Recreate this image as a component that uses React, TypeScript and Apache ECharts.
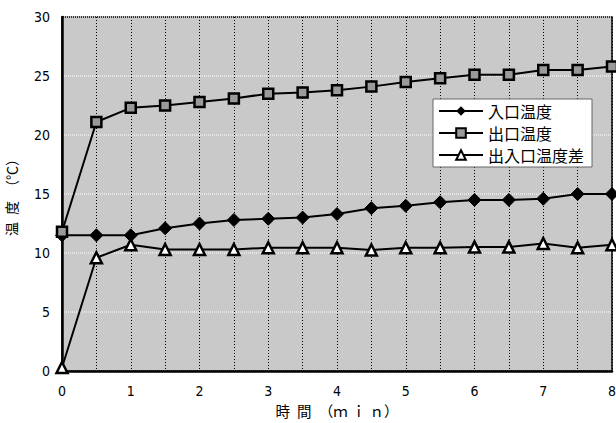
import React, { useEffect, useRef } from "react";
import * as echarts from "echarts";

const times = [0, 0.5, 1, 1.5, 2, 2.5, 3, 3.5, 4, 4.5, 5, 5.5, 6, 6.5, 7, 7.5, 8];
const inletTemp = [11.5, 11.5, 11.5, 12.1, 12.5, 12.8, 12.9, 13.0, 13.3, 13.8, 14.0, 14.3, 14.5, 14.5, 14.6, 15.0, 15.0];
const outletTemp = [11.8, 21.1, 22.3, 22.5, 22.8, 23.1, 23.5, 23.6, 23.8, 24.1, 24.5, 24.8, 25.1, 25.1, 25.5, 25.5, 25.8];
const diffTemp = [0.3, 9.6, 10.7, 10.3, 10.3, 10.3, 10.45, 10.45, 10.45, 10.25, 10.45, 10.45, 10.5, 10.5, 10.8, 10.45, 10.7];
const seriesNames = ["入口温度", "出口温度", "出入口温度差"];

const tickFont = "'Liberation Sans Narrow', 'DejaVu Sans Condensed', 'Liberation Sans', sans-serif";
const cjkFont = "'Noto Sans CJK JP', 'Noto Sans CJK SC', sans-serif";

export default function App() {
  const ref = useRef<HTMLDivElement>(null);
  useEffect(() => {
    if (!ref.current) return;
    const chart = echarts.init(ref.current, undefined, { renderer: "svg" });
    const mk = (arr: number[]) => times.map((t, i) => [t, arr[i]]);
    chart.setOption({
      animation: false,
      backgroundColor: "#ffffff",
      grid: {
        left: 62,
        top: 17,
        width: 550,
        height: 354,
        show: true,
        outerBoundsMode: "none",
        containLabel: false,
        backgroundColor: "#c9c9c9",
        borderColor: "#000",
        borderWidth: 1.5,
      },
      legend: {
        orient: "vertical",
        left: 433,
        top: 99,
        data: seriesNames,
        backgroundColor: "#ffffff",
        borderColor: "#666",
        borderWidth: 1,
        padding: [4, 8, 4, 5],
        itemWidth: 44,
        itemHeight: 12,
        itemGap: 6,
        textStyle: { fontFamily: cjkFont, fontSize: 16, color: "#000" },
      },
      xAxis: {
        type: "value",
        min: 0,
        max: 8,
        interval: 0.5,
        name: "時\u2002間\u2002（ｍ\u2005ｉ\u2005ｎ）",
        nameLocation: "middle",
        nameGap: 30,
        nameTextStyle: { fontFamily: cjkFont, fontSize: 14.5, color: "#000" },
        axisLine: { show: true, lineStyle: { color: "#000", width: 2.5 } },
        axisTick: { show: false },
        axisLabel: {
          margin: 13,
          fontFamily: tickFont,
          fontSize: 14,
          color: "#000",
          formatter: (v: number) => (Number.isInteger(v) ? String(v) : ""),
        },
        splitLine: { show: true, lineStyle: { color: "#000", type: [1, 2], width: 1 } },
      },
      yAxis: {
        type: "value",
        min: 0,
        max: 30,
        interval: 5,
        name: "温\u2002度\u2002（℃）",
        nameLocation: "middle",
        nameGap: 44,
        nameRotate: 90,
        nameTextStyle: { fontFamily: cjkFont, fontSize: 14, color: "#000" },
        axisLine: { show: true, lineStyle: { color: "#000", width: 2.5 } },
        axisTick: { show: false },
        axisLabel: { margin: 12, fontFamily: tickFont, fontSize: 14, color: "#000" },
        splitLine: { show: true, lineStyle: { color: "#eeeeee", type: [1, 1], width: 1.5 } },
      },
      series: [
        {
          name: seriesNames[0],
          type: "line",
          data: mk(inletTemp),
          symbol: "diamond",
          symbolSize: 13,
          lineStyle: { color: "#000", width: 2 },
          itemStyle: { color: "#000", borderColor: "#000" },
          z: 3,
        },
        {
          name: seriesNames[1],
          type: "line",
          data: mk(outletTemp),
          symbol: "rect",
          symbolSize: 10,
          lineStyle: { color: "#000", width: 2 },
          itemStyle: { color: "#9a9a9a", borderColor: "#000", borderWidth: 2.5 },
          z: 4,
        },
        {
          name: seriesNames[2],
          type: "line",
          data: mk(diffTemp),
          symbol: "triangle",
          symbolSize: 11,
          lineStyle: { color: "#000", width: 2 },
          itemStyle: { color: "#fff", borderColor: "#000", borderWidth: 2.5 },
          z: 3,
        },
      ],
    });
    return () => chart.dispose();
  }, []);
  return <div ref={ref} style={{ width: 616, height: 423, position: "absolute", left: 0, top: 0 }} />;
}
